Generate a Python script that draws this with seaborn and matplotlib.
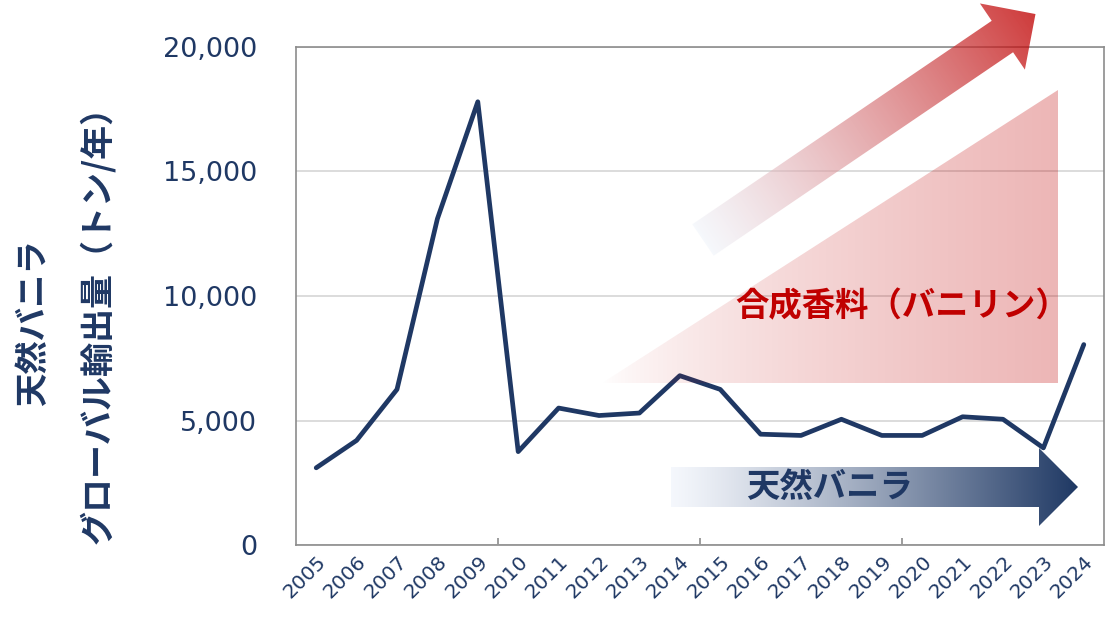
import numpy as np
import pandas as pd
import matplotlib
matplotlib.use('Agg')
import matplotlib.pyplot as plt
from matplotlib.patches import Polygon
import seaborn as sns

# data
years = ['2005', '2006', '2007', '2008', '2009', '2010', '2011', '2012', '2013', '2014',
         '2015', '2016', '2017', '2018', '2019', '2020', '2021', '2022', '2023', '2024']
tons = [3100, 4200, 6250, 13100, 17800, 3750, 5500, 5200, 5300, 6800,
        6250, 4450, 4400, 5050, 4400, 4400, 5150, 5050, 3900, 8050]
y_ticks = [0, 5000, 10000, 15000, 20000]

label_line1 = '天然バニラ'
label_line2 = 'グローバル輸出量（トン/年）'
synthetic_text = '合成香料（バニリン）'
natural_text = '天然バニラ'

NAVY = '#1F3864'
RED = '#C00000'
W, H = 1115, 617
JP = ['Noto Sans CJK JP', 'DejaVu Sans']


def arrow_verts(tail, angle, length, shaft_w, head_w, head_len):
    # pixel coords, y pointing down
    a = np.deg2rad(angle)
    u = np.array([np.cos(a), -np.sin(a)])
    n = np.array([np.sin(a), np.cos(a)])
    t = np.array(tail, dtype=float)
    b = t + u * (length - head_len)
    tip = t + u * length
    return [t - n * shaft_w / 2, b - n * shaft_w / 2, b - n * head_w / 2, tip,
            b + n * head_w / 2, b + n * shaft_w / 2, t + n * shaft_w / 2]


def gradient_poly(ax, verts, p0, p1, c0, c1, gamma=1.0, zorder=1):
    yy, xx = np.mgrid[0:H, 0:W] + 0.5
    d = np.subtract(p1, p0).astype(float)
    t = ((xx - p0[0]) * d[0] + (yy - p0[1]) * d[1]) / (d @ d)
    t = (np.clip(t, 0, 1) ** gamma)[..., None]
    img = np.array(c0) * (1 - t) + np.array(c1) * t
    poly = Polygon(verts, closed=True, facecolor='none', edgecolor='none')
    ax.add_patch(poly)
    im = ax.imshow(img, extent=(0, W, H, 0), origin='upper', aspect='auto',
                   interpolation='nearest', zorder=zorder)
    im.set_clip_path(poly)


def main():
    sns.set_theme(style='white')
    plt.rcParams['font.family'] = ['DejaVu Sans', 'Noto Sans CJK JP']

    df = pd.DataFrame({'year': years, 'tons': tons})

    fig = plt.figure(figsize=(W / 100, H / 100), dpi=100)
    ax = fig.add_axes([296 / W, 1 - 545 / H, (1104 - 296) / W, (545 - 47) / H])

    sns.lineplot(data=df, x='year', y='tons', color=NAVY, linewidth=3.4,
                 ax=ax, solid_joinstyle='round', solid_capstyle='round', zorder=3)

    ax.set_xlim(-0.5, len(years) - 0.5)
    ax.set_ylim(0, 20000)
    ax.set_yticks(y_ticks)
    ax.yaxis.set_major_formatter(matplotlib.ticker.StrMethodFormatter('{x:,.0f}'))
    ax.set_xlabel('')
    ax.set_ylabel('')

    ax.yaxis.grid(True, color='#D9D9D9', linewidth=1.3)
    ax.set_axisbelow(True)
    for s in ax.spines.values():
        s.set_color('#8C8C8C')
        s.set_linewidth(1.2)

    ax.tick_params(axis='y', length=0, pad=28, labelsize=19.5, labelcolor=NAVY)
    ax.tick_params(axis='x', which='major', length=0, pad=5, labelsize=14.5, labelcolor=NAVY)
    for lbl in ax.get_xticklabels():
        lbl.set_rotation(45)
        lbl.set_ha('right')
        lbl.set_rotation_mode('anchor')
    ax.set_xticks([4.5, 9.5, 14.5], minor=True)
    ax.tick_params(axis='x', which='minor', direction='in', length=5, width=1.2,
                   color='#8C8C8C', bottom=True)

    # y label (two lines)
    fig.text(34 / W, 1 - 323 / H, label_line1, rotation=90, ha='center', va='center',
             fontsize=24, fontweight='bold', color=NAVY, family=JP)
    fig.text(97 / W, 1 - 316 / H, label_line2, rotation=90, ha='center', va='center',
             fontsize=24.5, fontweight='bold', color=NAVY, family=JP)

    # overlay in figure pixel coordinates for the decorative arrows
    ov = fig.add_axes([0, 0, 1, 1], zorder=5)
    ov.set_axis_off()

    tri = [(602, 383), (1058, 90), (1058, 383)]
    gradient_poly(ov, tri, (602, 0), (1058, 0),
                  (0.753, 0, 0, 0.0), (0.753, 0, 0, 0.29), gamma=0.7)

    red_arrow = arrow_verts((703, 240), 34.2, 402, 38, 80, 40)
    gradient_poly(ov, red_arrow, red_arrow[0] * 0.5 + red_arrow[6] * 0.5, red_arrow[3],
                  (0.93, 0.95, 0.98, 0.5), (0.753, 0, 0, 0.77))

    blue_arrow = arrow_verts((671, 487), 0, 407, 40, 78, 39)
    gradient_poly(ov, blue_arrow, (671, 487), (1078, 487),
                  (0.96, 0.97, 0.99, 1.0), (0.12, 0.22, 0.39, 1.0), gamma=1.2)

    ov.text(902, 307, synthetic_text, ha='center', va='center', fontsize=24,
            fontweight='bold', color=RED, family=JP, zorder=6)
    ov.text(830, 487, natural_text, ha='center', va='center', fontsize=24,
            fontweight='bold', color=NAVY, family=JP, zorder=6)

    ov.set_xlim(0, W)
    ov.set_ylim(H, 0)

    fig.savefig('out.png', dpi=100)


if __name__ == '__main__':
    main()
